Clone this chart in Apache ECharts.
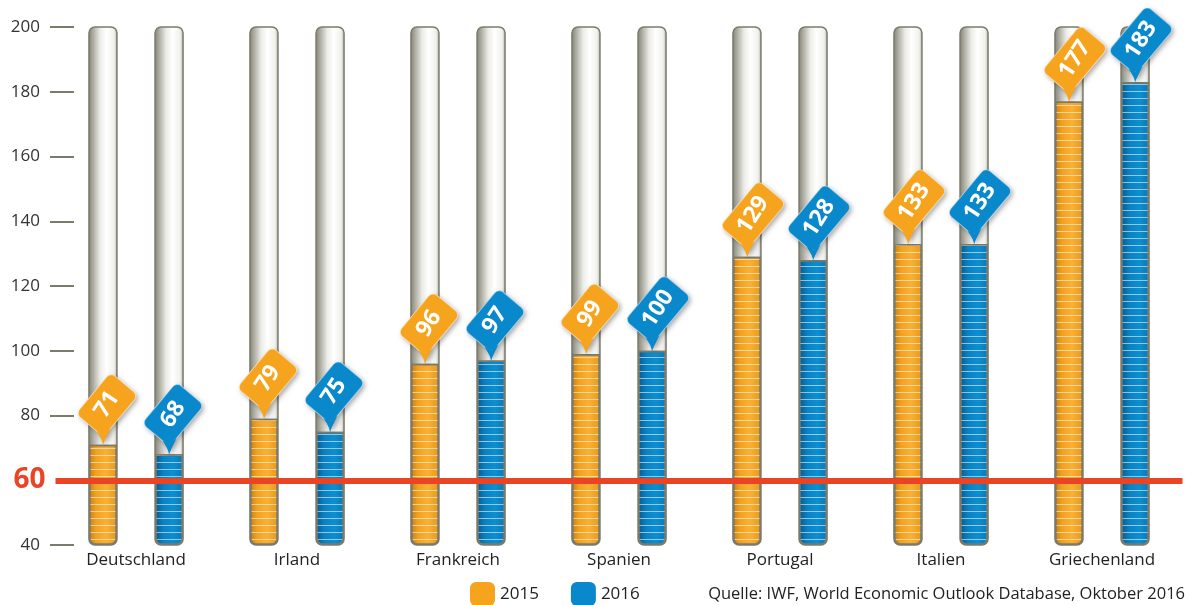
<!DOCTYPE html>
<html><head><meta charset="utf-8">
<script src="https://cdn.jsdelivr.net/npm/echarts@6/dist/echarts.min.js"></script>
<style>html,body{margin:0;padding:0;background:#fff}#c{width:1192px;height:605px}</style>
</head><body><div id="c"></div>
<script>
const categories = ['Deutschland','Irland','Frankreich','Spanien','Portugal','Italien','Griechenland'];
const values2015 = [71, 79, 96, 99, 129, 133, 177];
const values2016 = [68, 75, 97, 100, 128, 133, 183];
const seriesNames = ['2015', '2016'];
const yTickValues = [40, 80, 100, 120, 140, 160, 180, 200];
const threshold = 60;
const sourceText = 'Quelle: IWF, World Economic Outlook Database, Oktober 2016';

const FONT = '"Open Sans", sans-serif';
const ORANGE = '#F6A41E', BLUE = '#0A88CC', RED = '#EA4426', GREY = '#7b7b6c';

function hGrad(stops){ return {type:'linear',x:0,y:0,x2:1,y2:0,colorStops:stops.map(s=>({offset:s[0],color:s[1]}))}; }
const tubeGrad = hGrad([[0,'#808074'],[0.12,'#a0a094'],[0.4,'#ebebe7'],[0.62,'#ffffff'],[0.88,'#f0f0ec'],[1,'#abab9f']]);
const orangeGrad = hGrad([[0,'#c97f10'],[0.25,'#f2a11f'],[0.6,'#fbb034'],[1,'#e6991c']]);
const blueGrad = hGrad([[0,'#07598c'],[0.3,'#0a82c2'],[0.65,'#0c8fd2'],[1,'#0a78b6']]);
const stripes = {symbol:'rect', symbolSize:1, color:'rgba(255,255,255,0.55)', dashArrayX:[1,0], dashArrayY:[1,5.5], rotation:0};

function barSeries(name, vals, grad){
  return {
    type:'bar', name, data: vals, barWidth: 28, barGap: '136%',
    showBackground: true,
    backgroundStyle: {color: tubeGrad, borderColor: GREY, borderWidth: 1.5, borderRadius: 6},
    itemStyle: {color: grad, borderColor: GREY, borderWidth: 1.5, borderRadius: [0,0,6,6], decal: stripes},
    emphasis: {disabled: true}, z: 2
  };
}

function labelSeries(name, vals, color, side){
  const ang = 50 * Math.PI / 180;
  const textAng = 57 * Math.PI / 180;
  const c = Math.cos(ang), s = Math.sin(ang);
  return {
    type:'custom', name, data: vals.map((v,i)=>[i,v]), encode:{x:0,y:1},
    z: 10, clip: false, silent: true,
    renderItem(params, api){
      const v = api.value(1);
      const p = api.coord([api.value(0), v]);
      const band = api.size([1,0])[0];
      const x = p[0] + side * band * 33 / 161, y = p[1];
      const txt = String(v);
      const three = txt.length > 2;
      const W = three ? 60 : 54, H = 36;
      const cx = three ? 6 : 4, cy = three ? -42 : -40;
      // lowest corner of the rotated box
      const kx = cx - c*W/2 + s*H/2, ky = cy + s*W/2 + c*H/2;
      const ax = kx - 9*s, ay = ky - 9*c;     // along the left edge
      const bx = kx + 11*c, by = ky - 11*s;   // along the bottom edge
      const qx = kx*0.5, qy = ky*0.55;
      const ptr = `M0 0 Q${qx} ${qy} ${ax} ${ay} L${kx} ${ky-3} L${bx} ${by} Q${qx+1} ${qy} 0 0 Z`;
      const shadow = {shadowBlur:5, shadowColor:'rgba(0,0,0,0.35)', shadowOffsetX:2, shadowOffsetY:2};
      const rectShape = {x:-W/2, y:-H/2, width:W, height:H, r:6};
      return {type:'group', x, y, children:[
        {type:'rect', x:cx, y:cy, rotation:ang, shape:rectShape, style:Object.assign({fill:color}, shadow)},
        {type:'path', shape:{pathData:ptr}, style:Object.assign({fill:color}, shadow)},
        {type:'rect', x:cx, y:cy, rotation:ang, shape:rectShape, style:{fill:color, stroke:'rgba(255,255,255,0.55)', lineWidth:1}},
        {type:'path', shape:{pathData:ptr}, style:{fill:color}},
        {type:'text', x:cx, y:cy, rotation:textAng, style:{text:txt, fill:'#fff', font:'bold 23px "Open Sans", sans-serif', align:'center', verticalAlign:'middle'}}
      ]};
    }
  };
}

const chart = echarts.init(document.getElementById('c'), null, {renderer:'canvas'});
const s2015 = barSeries(seriesNames[0], values2015, orangeGrad);
s2015.markLine = {
  symbol:'none', silent:true, z: 5,
  lineStyle:{color:RED, width:6, type:'solid'},
  label:{position:'start', formatter: String(threshold), color:RED, fontSize:28, fontWeight:'bold', fontFamily:FONT, distance:10},
  emphasis:{disabled:true},
  data:[{yAxis: threshold}]
};
chart.setOption({
  animation:false,
  textStyle:{fontFamily:FONT},
  grid:{left:55.5, right:9.5, top:27, bottom:60},
  title:{text: sourceText, right: 2, top: 581, textStyle:{fontSize:16.5, fontWeight:'normal', color:'#222', fontFamily:FONT}},
  legend:{left:465, top:577, itemWidth:25, itemHeight:24, itemGap:32, icon:'roundRect',
    textStyle:{fontSize:17, color:'#222', fontFamily:FONT},
    data:[{name:seriesNames[0], itemStyle:{color:ORANGE, decal:'none', borderWidth:0}},
          {name:seriesNames[1], itemStyle:{color:BLUE, decal:'none', borderWidth:0}}]},
  xAxis:{type:'category', data:categories, axisLine:{show:false}, axisTick:{show:false},
    axisLabel:{fontSize:17, color:'#222', margin:7, fontFamily:FONT}},
  yAxis:{type:'value', min:40, max:200, interval:20, startValue:40, offset:-18.5,
    axisLine:{show:false}, splitLine:{show:false},
    axisTick:{show:true, length:24, customValues:yTickValues, lineStyle:{color:GREY, width:2}},
    axisLabel:{margin:34, fontSize:17, color:'#333', fontFamily:FONT, customValues:yTickValues}},
  series:[
    s2015,
    barSeries(seriesNames[1], values2016, blueGrad),
    labelSeries('lbl2015', values2015, ORANGE, -1),
    labelSeries('lbl2016', values2016, BLUE, 1)
  ]
});
</script></body></html>
